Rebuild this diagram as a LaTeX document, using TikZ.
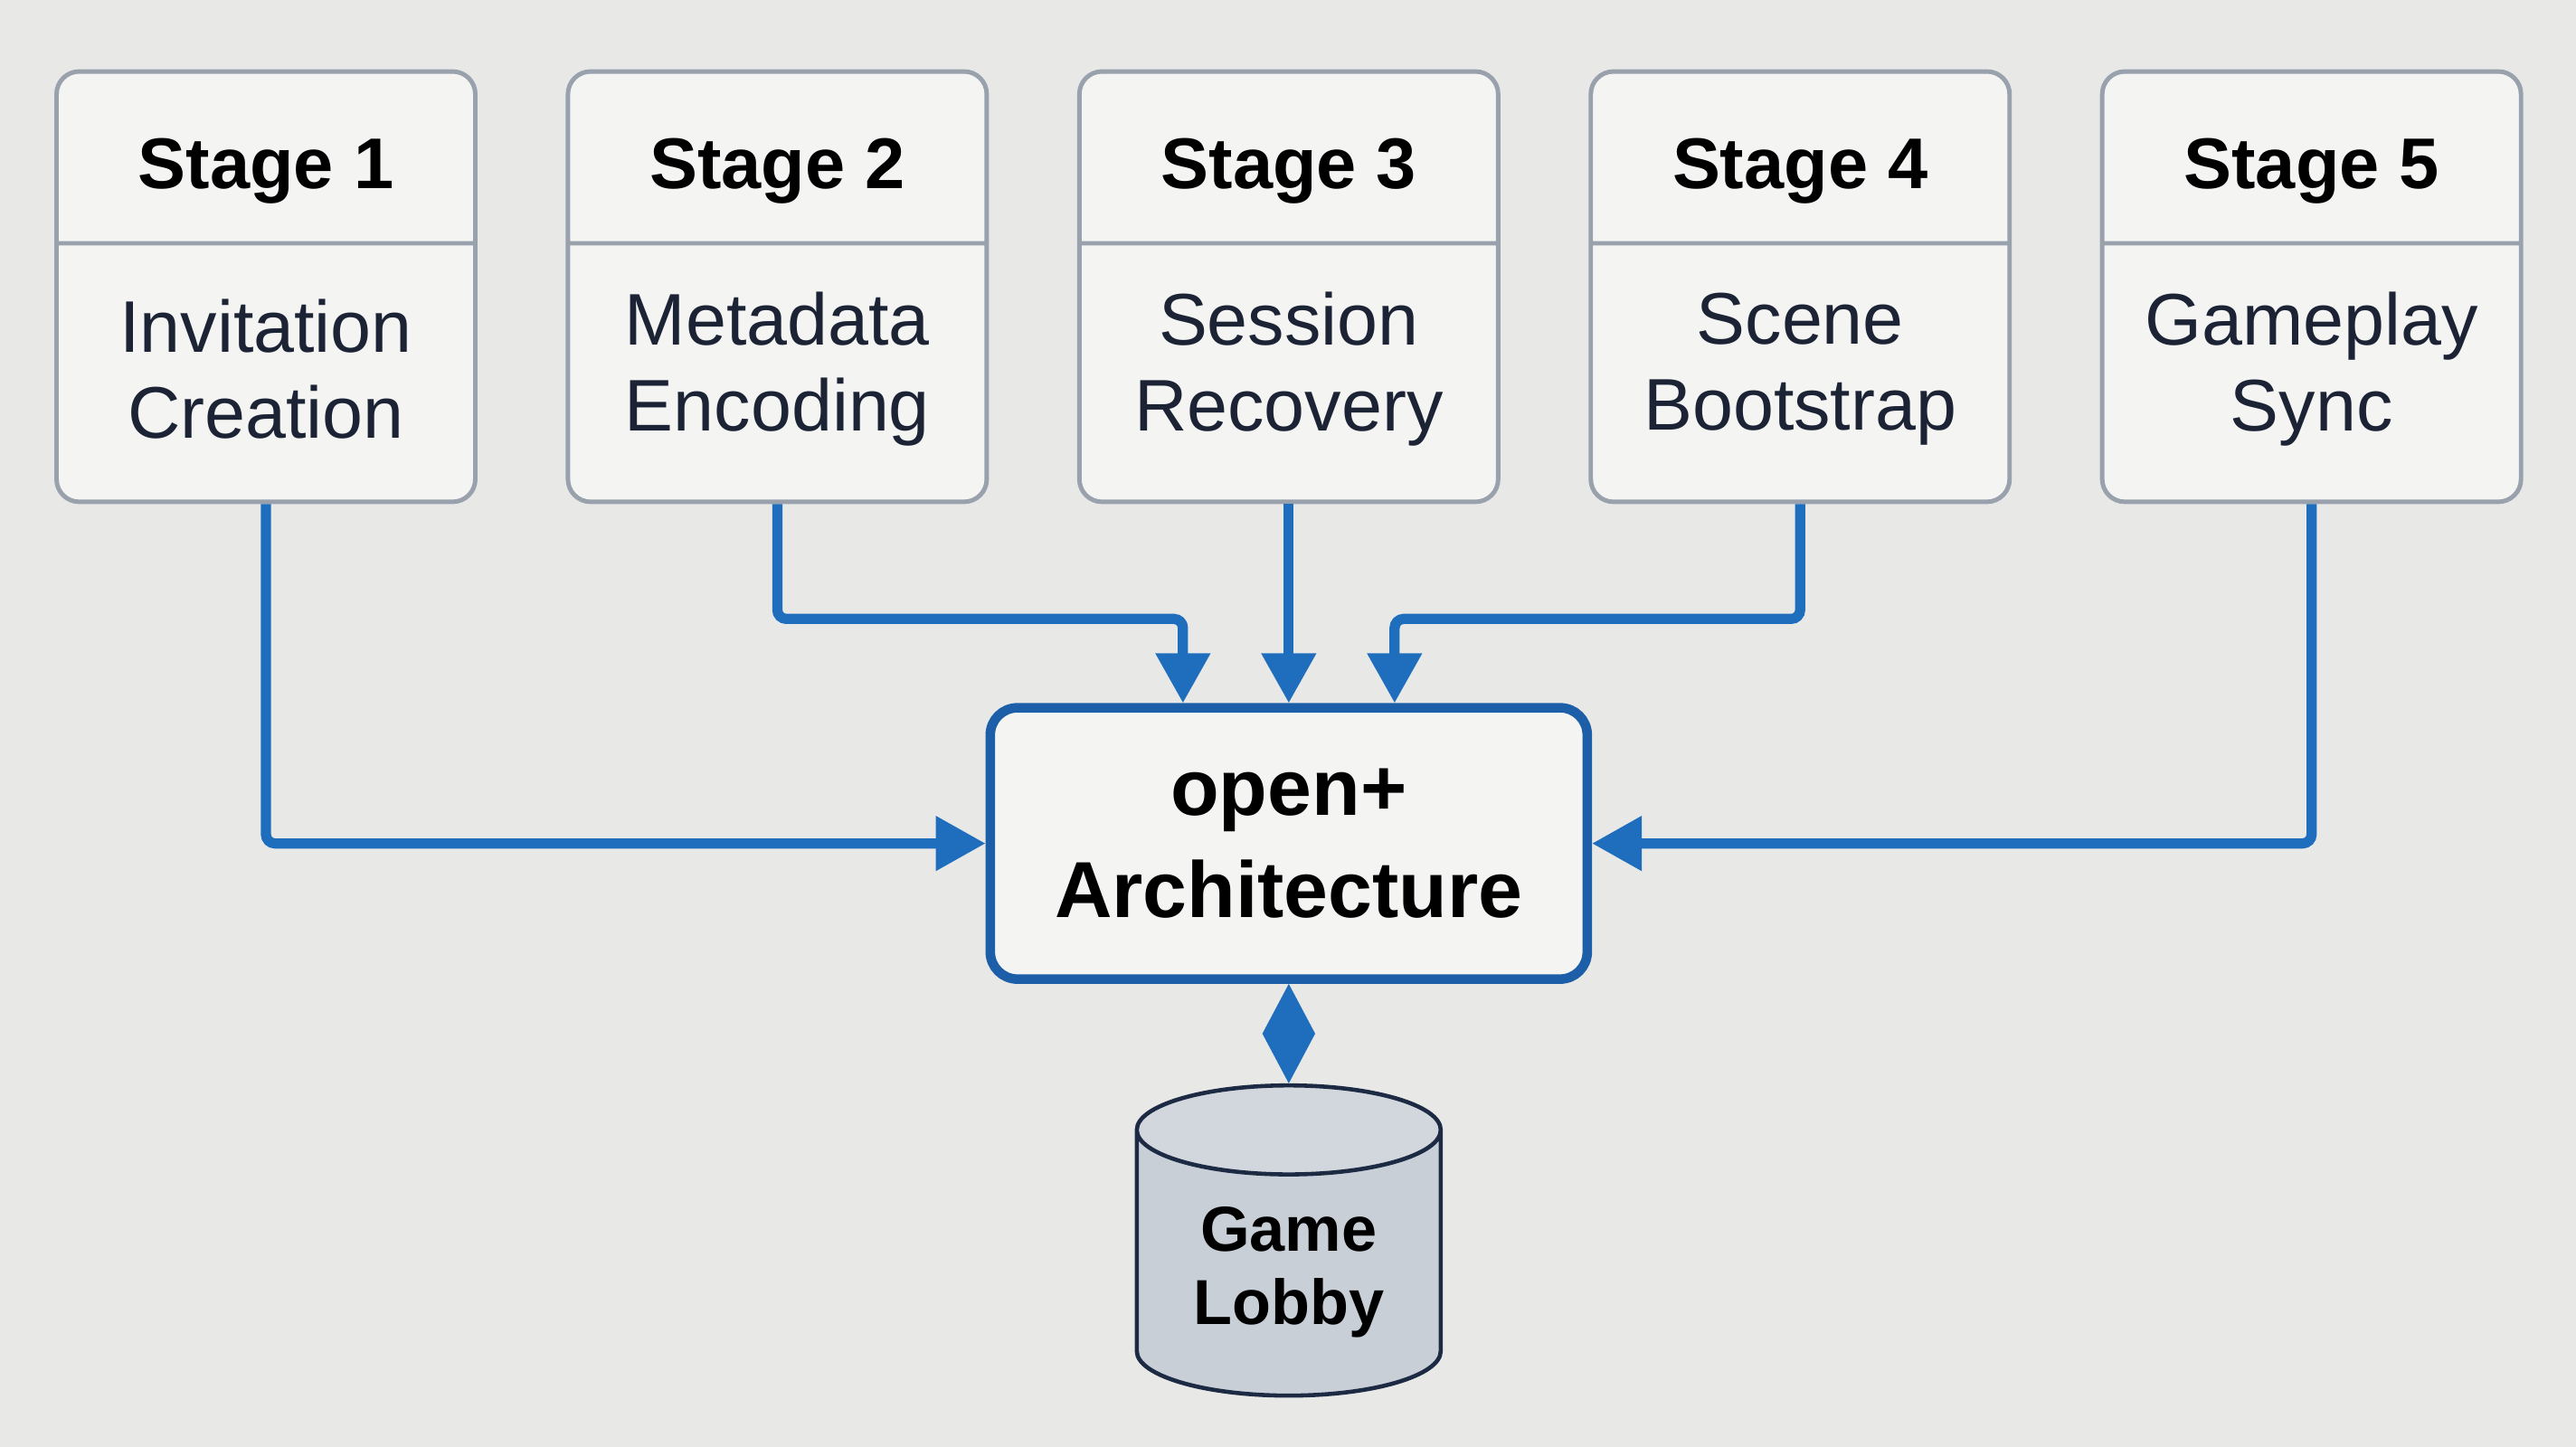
\documentclass[tikz,border=0pt]{standalone}
\usepackage{fontspec}
\setmainfont{Liberation Sans}
\usetikzlibrary{positioning,arrows.meta,shapes.geometric,shapes.multipart}

\definecolor{bggray}{HTML}{E8E8E7}
\definecolor{boxfill}{HTML}{F4F4F3}
\definecolor{boxline}{HTML}{98A1AC}
\definecolor{flowblue}{HTML}{1F6EBE}
\definecolor{archblue}{HTML}{1D5EA8}
\definecolor{dbfill}{HTML}{C8CFD7}
\definecolor{dbtop}{HTML}{D2D7DD}
\definecolor{dbline}{HTML}{1C2A44}
\definecolor{bodyink}{HTML}{1B2335}

\newcommand{\stagehead}[1]{\parbox[c][1.85cm][c]{4.63cm}{\vspace*{0.3cm}\centering\bfseries\fontsize{22.6}{26}\selectfont #1}}
\newcommand{\stagebody}[1]{\parbox[c][2.81cm][c]{4.63cm}{\centering\color{bodyink}\fontsize{23}{27}\selectfont #1\par\vspace*{0.07cm}}}

\begin{document}
\begin{tikzpicture}[
node distance=0.975cm,
stagebox/.style={
draw=boxline,
line width=1.4pt,
fill=boxfill,
rounded corners=2.5mm,
rectangle split,
rectangle split parts=2,
inner sep=0pt
},
archbox/.style={
draw=archblue,
line width=3pt,
fill=boxfill,
rounded corners=3mm,
minimum width=6.6cm,
minimum height=3cm,
align=center,
font=\bfseries\fontsize{25}{32}\selectfont
},
lobbydb/.style={
cylinder,
shape border rotate=90,
aspect=0.42,
draw=dbline,
line width=1.3pt,
cylinder uses custom fill,
cylinder body fill=dbfill,
cylinder end fill=dbtop,
minimum width=3.36cm,
minimum height=3.43cm,
align=center,
font=\bfseries\fontsize{20}{23}\selectfont
},
flow/.style={draw=flowblue,line width=3.2pt,rounded corners=1mm,-{Triangle[length=5.5mm,width=5.8mm]}},
link/.style={draw=flowblue,fill=flowblue,line width=0.4pt,{Triangle[length=5.5mm,width=5.8mm]}-{Triangle[length=5.5mm,width=5.8mm]}}
]

\fill[bggray] (0,0) rectangle (28.48,16);
\useasboundingbox (0,0) rectangle (28.48,16);

\node[stagebox] (invite) at (2.94,12.83) {\stagehead{Stage 1}\nodepart{two}\stagebody{Invitation\\Creation}};

\node[stagebox,right=of invite] (meta) {\stagehead{Stage 2}\nodepart{two}\stagebody{Metadata\\Encoding}};

\node[stagebox,right=of meta] (session) {\stagehead{Stage 3}\nodepart{two}\stagebody{Session\\Recovery}};

\node[stagebox,right=of session] (scene) {\stagehead{Stage 4}\nodepart{two}\stagebody{Scene\\Bootstrap}};

\node[stagebox,right=of scene] (sync) {\stagehead{Stage 5}\nodepart{two}\stagebody{Gameplay\\Sync}};

\node[archbox,below=2.2cm of session] (arch) {open+\\Architecture};

\node[lobbydb,below=1.1cm of arch] (lobby) {Game\\Lobby};

\coordinate (leftin) at ([xshift=-1.17cm]arch.north);
\coordinate (leftbend) at ([yshift=0.93cm]leftin);
\coordinate (rightin) at ([xshift=1.17cm]arch.north);
\coordinate (rightbend) at ([yshift=0.93cm]rightin);

\draw[flow](invite.south)|-(arch.west);
\draw[flow](meta.south)|-(leftbend)--(leftin);
\draw[flow](session.south)--(arch.north);
\draw[flow](scene.south)|-(rightbend)--(rightin);
\draw[flow](sync.south)|-(arch.east);
\draw[link](arch.south)--(lobby.north);

\end{tikzpicture}
\end{document}
